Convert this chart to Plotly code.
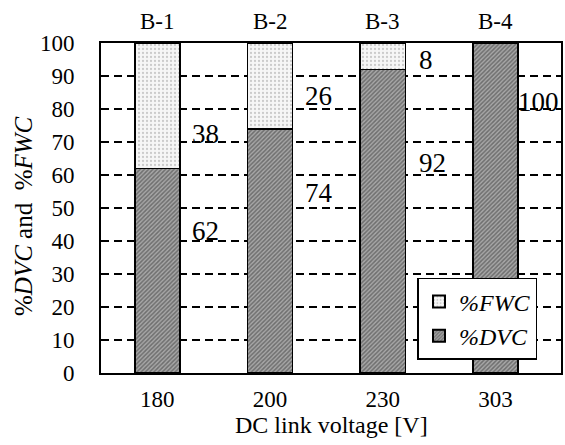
import plotly.graph_objects as go

# Voltage categories and component shares (percent)
voltages = ["180", "200", "230", "303"]
board_ids = ["B-1", "B-2", "B-3", "B-4"]
dvc_share = [62, 74, 92, 100]
fwc_share = [38, 26, 8, 0]

# Vertical placement of the value labels (axis units)
dvc_label_y = [43, 54.5, 63.5, 82]
fwc_label_y = [72.5, 84, 95, None]
label_xshift = [10, 10, 12, -2]

FONT = "Liberation Serif, Times New Roman, serif"
BAR_W = 0.4

fig = go.Figure()
fig.add_trace(go.Bar(
    x=voltages, y=dvc_share, name="<i>%DVC</i>",
    marker=dict(color="#8a8a8a",
                line=dict(color="black", width=1.5),
                pattern=dict(shape="/", fgcolor="#333333", bgcolor="#a8a8a8",
                             size=3, solidity=0.5)),
    width=BAR_W,
))
fig.add_trace(go.Bar(
    x=voltages, y=fwc_share, name="<i>%FWC</i>",
    marker=dict(color="white",
                line=dict(color="black", width=1.5),
                pattern=dict(shape=".", fgcolor="#a0a0a0", bgcolor="#f6f6f6",
                             size=4, solidity=0.25)),
    width=BAR_W,
))

annotations = []
for i, v in enumerate(voltages):
    # board identifier above the plot area
    annotations.append(dict(x=i, y=1, xref="x", yref="paper", text=board_ids[i],
                            showarrow=False, yanchor="bottom", yshift=7,
                            font=dict(family=FONT, size=23, color="black")))
    annotations.append(dict(x=i + BAR_W / 2, y=dvc_label_y[i], xref="x", yref="y",
                            text=str(dvc_share[i]), showarrow=False,
                            xanchor="left", xshift=label_xshift[i],
                            font=dict(family=FONT, size=27, color="black")))
    if fwc_share[i] > 0:
        annotations.append(dict(x=i + BAR_W / 2, y=fwc_label_y[i], xref="x", yref="y",
                                text=str(fwc_share[i]), showarrow=False,
                                xanchor="left", xshift=label_xshift[i],
                                font=dict(family=FONT, size=27, color="black")))

# axis titles
annotations.append(dict(x=0.5, y=0, xref="paper", yref="paper",
                        text="DC link voltage [V]", showarrow=False,
                        yanchor="middle", yshift=-52,
                        font=dict(family=FONT, size=24, color="black")))
annotations.append(dict(x=0, y=0.5, xref="paper", yref="paper",
                        text="%<i>DVC</i> and  %<i>FWC</i>", showarrow=False,
                        textangle=-90, xanchor="center", xshift=-78, yshift=-8,
                        font=dict(family=FONT, size=25, color="black")))

fig.update_layout(
    width=565, height=445,
    margin=dict(l=101, r=2, t=43, b=72),
    barmode="stack",
    paper_bgcolor="white", plot_bgcolor="white",
    font=dict(family=FONT, size=23, color="black"),
    showlegend=True,
    legend=dict(x=0.688, y=0.288, xanchor="left", yanchor="top",
                traceorder="reversed",
                bgcolor="white", bordercolor="black", borderwidth=1.5,
                font=dict(family=FONT, size=24, color="black"),
                itemsizing="constant"),
    annotations=annotations,
    xaxis=dict(
        type="category",
        showgrid=False, showline=True, linecolor="black", linewidth=2, mirror=True,
        ticks="", ticklabelstandoff=4,
        tickfont=dict(family=FONT, size=23),
    ),
    yaxis=dict(
        range=[0, 100], dtick=10,
        showgrid=True, gridcolor="black", gridwidth=1.5, griddash="8px,5px",
        showline=True, linecolor="black", linewidth=2, mirror=True,
        ticks="", ticklabelstandoff=20,
        tickfont=dict(family=FONT, size=23),
        zeroline=False,
    ),
)

fig.write_html("out.html")
